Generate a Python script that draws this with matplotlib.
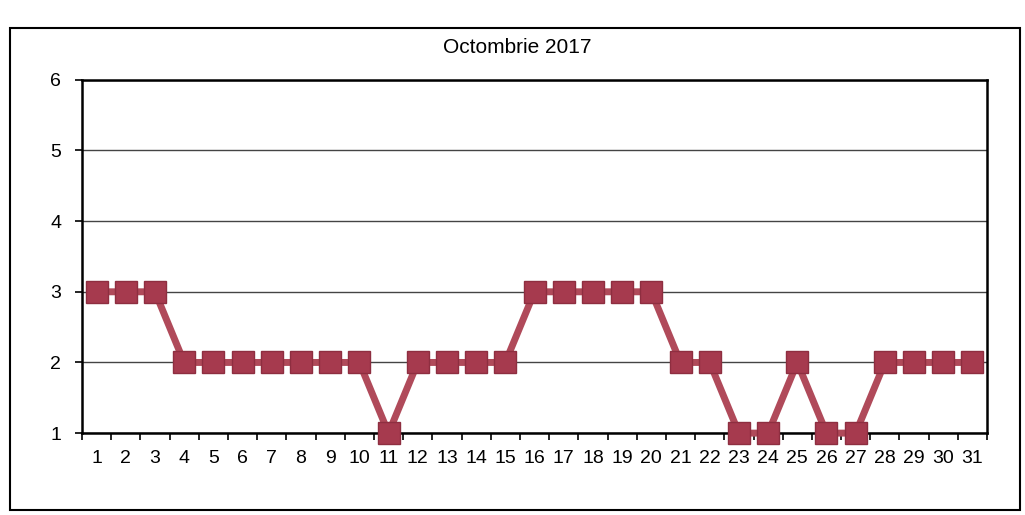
import matplotlib.pyplot as plt
from matplotlib.patches import Rectangle

plt.rcParams['font.family'] = ['Liberation Sans', 'DejaVu Sans']

days = list(range(1, 32))
values = [3, 3, 3, 2, 2, 2, 2, 2, 2, 2, 1, 2, 2, 2, 2,
          3, 3, 3, 3, 3, 2, 2, 1, 1, 2, 1, 1, 2, 2, 2, 2]
title = "Octombrie 2017"

fig = plt.figure(figsize=(10.25, 5.15), dpi=100)
ax = fig.add_axes([0.08, 0.159, 0.883, 0.686])

# outer chart frame
fig.patches.append(Rectangle((0.01, 0.01), 0.985, 0.935, transform=fig.transFigure,
                             fill=False, edgecolor='black', linewidth=1.5))

ax.plot(days, values, color='#b04a5a', linewidth=5, marker='s',
        markersize=16, markerfacecolor='#a63a4e', markeredgecolor='#8e2e40',
        markeredgewidth=1, zorder=3, clip_on=False)

ax.set_xlim(0.5, 31.5)
ax.set_ylim(1, 6)
ax.set_yticks([1, 2, 3, 4, 5, 6])
ax.set_xticks(days)
ax.set_xticks([d + 0.5 for d in range(0, 32)], minor=True)
ax.tick_params(axis='x', which='major', length=0, pad=12, labelsize=14)
ax.tick_params(axis='x', which='minor', length=5, width=1.2, direction='out')
ax.tick_params(axis='y', length=5, width=1.2, pad=10, labelsize=14)
ax.grid(axis='y', color='#444444', linewidth=1)
ax.set_axisbelow(True)
for s in ax.spines.values():
    s.set_linewidth(1.8)

fig.text(0.505, 0.907, title, ha='center', va='center', fontsize=15)

fig.savefig('out.png', dpi=100)
